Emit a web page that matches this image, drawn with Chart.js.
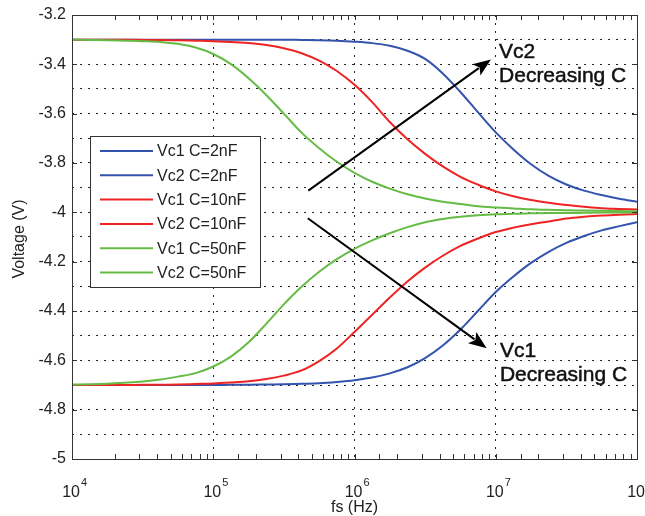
<!DOCTYPE html>
<html>
<head>
<meta charset="utf-8">
<script src="https://cdn.jsdelivr.net/npm/chart.js@4.4.0/dist/chart.umd.min.js"></script>
<style>
  html, body { margin: 0; padding: 0; background: #fff; }
  #wrap { width: 645px; height: 516px; }
</style>
</head>
<body>
<div id="wrap"><canvas id="chart" width="645" height="516"></canvas></div>
<script>
// Frequências (Hz), passo de 1/8 de década
const freqs = [
  1e4, 1.334e4, 1.778e4, 2.371e4, 3.162e4, 4.217e4, 5.623e4, 7.499e4,
  1e5, 1.334e5, 1.778e5, 2.371e5, 3.162e5, 4.217e5, 5.623e5, 7.499e5,
  1e6, 1.334e6, 1.778e6, 2.371e6, 3.162e6, 4.217e6, 5.623e6, 7.499e6,
  1e7, 1.334e7, 1.778e7, 2.371e7, 3.162e7, 4.217e7, 5.623e7, 7.499e7,
  1e8];

// Tensões (V)
const vc1_2nF = [
  -4.700, -4.700, -4.700, -4.700, -4.700, -4.700, -4.700, -4.700,
  -4.700, -4.699, -4.699, -4.698, -4.697, -4.695, -4.693, -4.688,
  -4.681, -4.670, -4.653, -4.628, -4.591, -4.540, -4.475, -4.399,
  -4.323, -4.260, -4.205, -4.160, -4.124, -4.096, -4.073, -4.056,
  -4.040];
const vc2_2nF = [
  -3.300, -3.300, -3.300, -3.300, -3.300, -3.300, -3.300, -3.300,
  -3.300, -3.300, -3.300, -3.300, -3.300, -3.301, -3.302, -3.304,
  -3.308, -3.314, -3.325, -3.345, -3.378, -3.437, -3.512, -3.595,
  -3.676, -3.745, -3.805, -3.852, -3.887, -3.912, -3.930, -3.945,
  -3.957];
const vc1_10nF = [
  -4.700, -4.700, -4.700, -4.700, -4.699, -4.699, -4.698, -4.696,
  -4.694, -4.690, -4.685, -4.676, -4.662, -4.641, -4.603, -4.552,
  -4.485, -4.415, -4.345, -4.280, -4.224, -4.176, -4.136, -4.106,
  -4.080, -4.062, -4.048, -4.037, -4.025, -4.018, -4.013, -4.010,
  -4.007];
const vc2_10nF = [
  -3.300, -3.300, -3.300, -3.300, -3.301, -3.301, -3.302, -3.304,
  -3.306, -3.309, -3.314, -3.322, -3.335, -3.355, -3.385, -3.427,
  -3.483, -3.553, -3.634, -3.704, -3.763, -3.814, -3.856, -3.888,
  -3.915, -3.935, -3.950, -3.961, -3.970, -3.977, -3.983, -3.986,
  -3.989];
const vc1_50nF = [
  -4.698, -4.697, -4.695, -4.691, -4.686, -4.678, -4.666, -4.652,
  -4.625, -4.585, -4.527, -4.452, -4.373, -4.302, -4.241, -4.190,
  -4.148, -4.114, -4.085, -4.060, -4.040, -4.027, -4.018, -4.012,
  -4.008, -4.006, -4.004, -4.003, -4.003, -4.002, -4.001, -4.001,
  -4.000];
const vc2_50nF = [
  -3.300, -3.301, -3.302, -3.304, -3.306, -3.309, -3.317, -3.332,
  -3.358, -3.399, -3.456, -3.524, -3.600, -3.677, -3.740, -3.795,
  -3.840, -3.876, -3.904, -3.927, -3.944, -3.957, -3.966, -3.975,
  -3.980, -3.984, -3.988, -3.990, -3.992, -3.993, -3.994, -3.995,
  -3.996];

const seriesLabels = ['Vc1 C=2nF', 'Vc2 C=2nF', 'Vc1 C=10nF', 'Vc2 C=10nF', 'Vc1 C=50nF', 'Vc2 C=50nF'];
const seriesValues = [vc1_2nF, vc2_2nF, vc1_10nF, vc2_10nF, vc1_50nF, vc2_50nF];
const seriesColors = ['#3353ad', '#3353ad', '#ee2424', '#ee2424', '#66bb44', '#66bb44'];

const xTickValues = [1e4, 1e5, 1e6, 1e7, 1e8];
const xTickExps = ['4', '5', '6', '7', '8'];
const yTickValues = [-5, -4.8, -4.6, -4.4, -4.2, -4, -3.8, -3.6, -3.4, -3.2];
const yTickLabels = ['-5', '-4.8', '-4.6', '-4.4', '-4.2', '-4', '-3.8', '-3.6', '-3.4', '-3.2'];

// Setas e textos em coordenadas de dados
const arrows = [
  { from: [4.71e5, -3.912], to: [9.25e6, -3.380] },
  { from: [4.67e5, -4.024], to: [8.63e6, -4.551] }
];
const notes = [
  { at: [1.055e7, -3.374], lines: ['Vc2', 'Decreasing C'] },
  { at: [1.07e7, -4.585], lines: ['Vc1', 'Decreasing C'] }
];

const FONT = '"Liberation Sans", Arial, sans-serif';
const INK = '#222';

function isDecade(v) {
  const l = Math.log10(v);
  return Math.abs(l - Math.round(l)) < 1e-6;
}

function drawArrow(ctx, x1, y1, x2, y2) {
  const ang = Math.atan2(y2 - y1, x2 - x1);
  const len = 18, half = 7;
  const bx = x2 - len * Math.cos(ang), by = y2 - len * Math.sin(ang);
  ctx.beginPath();
  ctx.moveTo(x1, y1);
  ctx.lineTo(bx + 3 * Math.cos(ang), by + 3 * Math.sin(ang));
  ctx.stroke();
  ctx.beginPath();
  ctx.moveTo(x2, y2);
  ctx.lineTo(bx + half * Math.sin(ang), by - half * Math.cos(ang));
  ctx.lineTo(bx + 4 * Math.cos(ang), by + 4 * Math.sin(ang));
  ctx.lineTo(bx - half * Math.sin(ang), by + half * Math.cos(ang));
  ctx.closePath();
  ctx.fill();
}

// Moldura, marcas, rótulos, legenda e anotações
const decorations = {
  id: 'decorations',
  afterDatasetsDraw(chart) {
    const { ctx, chartArea: a, scales: { x, y } } = chart;
    ctx.save();

    // marcas internas
    ctx.strokeStyle = '#333';
    ctx.lineWidth = 1;
    ctx.beginPath();
    yTickValues.forEach(v => {
      const py = Math.round(y.getPixelForValue(v)) + 0.5;
      ctx.moveTo(a.left, py); ctx.lineTo(a.left + 5, py);
      ctx.moveTo(a.right, py); ctx.lineTo(a.right - 5, py);
    });
    x.ticks.forEach(t => {
      const px = Math.round(x.getPixelForValue(t.value)) + 0.5;
      ctx.moveTo(px, a.bottom); ctx.lineTo(px, a.bottom - 5);
      ctx.moveTo(px, a.top); ctx.lineTo(px, a.top + 5);
    });
    ctx.stroke();

    // moldura
    ctx.strokeRect(Math.round(a.left) + 0.5, Math.round(a.top) + 0.5,
      Math.round(a.right - a.left), Math.round(a.bottom - a.top));

    // rótulos do eixo y
    ctx.fillStyle = INK;
    ctx.font = '16px ' + FONT;
    ctx.textAlign = 'right';
    ctx.textBaseline = 'middle';
    yTickValues.forEach((v, i) => {
      ctx.fillText(yTickLabels[i], a.left - 6, y.getPixelForValue(v));
    });

    // rótulos do eixo x (10^n)
    ctx.textBaseline = 'alphabetic';
    xTickValues.forEach((v, i) => {
      const px = x.getPixelForValue(v);
      ctx.font = '16px ' + FONT;
      ctx.textAlign = 'right';
      ctx.fillText('10', px + 8, a.bottom + 38);
      ctx.font = '11px ' + FONT;
      ctx.textAlign = 'left';
      ctx.fillText(xTickExps[i], px + 9, a.bottom + 27);
    });

    // títulos dos eixos
    ctx.font = '16px ' + FONT;
    ctx.textAlign = 'center';
    ctx.textBaseline = 'middle';
    ctx.fillText('fs (Hz)', (a.left + a.right) / 2, a.bottom + 49);
    ctx.save();
    ctx.translate(20, (a.top + a.bottom) / 2 + 2);
    ctx.rotate(-Math.PI / 2);
    ctx.fillText('Voltage (V)', 0, 0);
    ctx.restore();

    // legenda
    const lx = 90, ly = 136, lw = 170, lh = 151;
    ctx.fillStyle = '#fff';
    ctx.fillRect(lx, ly, lw, lh);
    ctx.strokeStyle = '#333';
    ctx.strokeRect(lx + 0.5, ly + 0.5, lw, lh);
    ctx.font = '16px ' + FONT;
    ctx.textAlign = 'left';
    ctx.textBaseline = 'middle';
    chart.data.datasets.forEach((ds, i) => {
      const ry = ly + 15 + i * 24.3;
      ctx.strokeStyle = ds.borderColor;
      ctx.lineWidth = 2;
      ctx.beginPath();
      ctx.moveTo(lx + 10, ry); ctx.lineTo(lx + 63, ry);
      ctx.stroke();
      ctx.fillStyle = INK;
      ctx.fillText(ds.label, lx + 67, ry + 1);
    });

    // setas
    ctx.strokeStyle = '#000';
    ctx.fillStyle = '#000';
    ctx.lineWidth = 2;
    arrows.forEach(ar => {
      drawArrow(ctx,
        x.getPixelForValue(ar.from[0]), y.getPixelForValue(ar.from[1]),
        x.getPixelForValue(ar.to[0]), y.getPixelForValue(ar.to[1]));
    });

    // textos (um pouco mais encorpados, como no original)
    ctx.font = '21px ' + FONT;
    ctx.textAlign = 'left';
    ctx.textBaseline = 'alphabetic';
    ctx.fillStyle = '#111';
    ctx.strokeStyle = '#111';
    ctx.lineWidth = 0.5;
    notes.forEach(n => {
      const px = x.getPixelForValue(n.at[0]);
      const py = y.getPixelForValue(n.at[1]);
      n.lines.forEach((t, k) => {
        ctx.fillText(t, px, py + k * 24);
        ctx.strokeText(t, px, py + k * 24);
      });
    });

    ctx.restore();
  }
};

const ctx = document.getElementById('chart');
new Chart(ctx, {
  type: 'line',
  data: {
    datasets: seriesValues.map((vals, i) => ({
      label: seriesLabels[i],
      data: freqs.map((f, k) => ({ x: f, y: vals[k] })),
      borderColor: seriesColors[i],
      backgroundColor: seriesColors[i],
      borderWidth: 2,
      pointRadius: 0,
      cubicInterpolationMode: 'monotone',
      order: seriesValues.length - i
    }))
  },
  options: {
    responsive: false,
    animation: false,
    layout: { padding: { left: 72, top: 15, right: 8, bottom: 57 } },
    plugins: {
      legend: { display: false },
      tooltip: { enabled: false }
    },
    scales: {
      x: {
        type: 'logarithmic',
        min: 1e4,
        max: 1e8,
        ticks: { display: false },
        grid: {
          drawTicks: false,
          color: c => (c.tick && isDecade(c.tick.value)) ? '#222' : 'rgba(0,0,0,0)'
        },
        border: { display: false, dash: [2, 6] }
      },
      y: {
        min: -5,
        max: -3.2,
        ticks: { display: false, stepSize: 0.1 },
        grid: { drawTicks: false, color: '#222' },
        border: { display: false, dash: [2, 6] }
      }
    }
  },
  plugins: [decorations]
});
</script>
</body>
</html>
